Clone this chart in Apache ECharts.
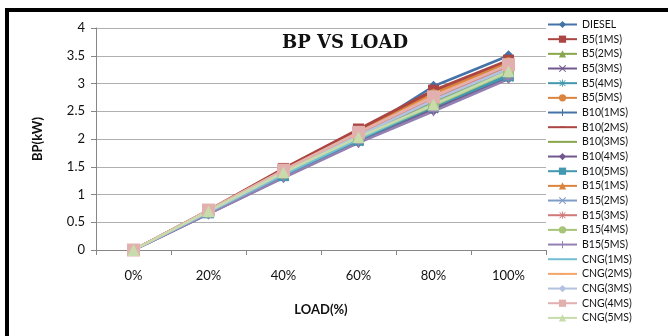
<!DOCTYPE html>
<html><head><meta charset="utf-8">
<script src="https://cdn.jsdelivr.net/npm/echarts@6/dist/echarts.min.js"></script>
<style>html,body{margin:0;padding:0;background:#fff}#c{width:668px;height:336px}</style>
</head><body><div id="c"></div>
<script>
const categories = ['0%','20%','40%','60%','80%','100%'];
const yTicks = [0,0.5,1,1.5,2,2.5,3,3.5,4];
const seriesNames = ['DIESEL','B5(1MS)','B5(2MS)','B5(3MS)','B5(4MS)','B5(5MS)','B10(1MS)','B10(2MS)','B10(3MS)','B10(4MS)','B10(5MS)','B15(1MS)','B15(2MS)','B15(3MS)','B15(4MS)','B15(5MS)','CNG(1MS)','CNG(2MS)','CNG(3MS)','CNG(4MS)','CNG(5MS)'];
const DIESEL    = [0,0.70,1.42,2.10,2.95,3.50];
const B5_1MS    = [0,0.72,1.47,2.18,2.88,3.42];
const B5_2MS    = [0,0.68,1.36,2.02,2.62,3.22];
const B5_3MS    = [0,0.66,1.33,1.96,2.55,3.12];
const B5_4MS    = [0,0.67,1.35,1.99,2.60,3.15];
const B5_5MS    = [0,0.71,1.43,2.10,2.80,3.38];
const B10_1MS   = [0,0.70,1.42,2.08,2.75,3.35];
const B10_2MS   = [0,0.71,1.45,2.15,2.85,3.40];
const B10_3MS   = [0,0.69,1.38,2.04,2.68,3.26];
const B10_4MS   = [0,0.65,1.31,1.94,2.52,3.10];
const B10_5MS   = [0,0.67,1.34,1.98,2.58,3.14];
const B15_1MS   = [0,0.71,1.44,2.12,2.82,3.37];
const B15_2MS   = [0,0.69,1.39,2.05,2.70,3.28];
const B15_3MS   = [0,0.70,1.41,2.07,2.73,3.31];
const B15_4MS   = [0,0.68,1.37,2.01,2.60,3.20];
const B15_5MS   = [0,0.65,1.30,1.93,2.50,3.08];
const CNG_1MS   = [0,0.68,1.36,2.00,2.63,3.22];
const CNG_2MS   = [0,0.71,1.43,2.11,2.78,3.33];
const CNG_3MS   = [0,0.69,1.39,2.06,2.70,3.27];
const CNG_4MS   = [0,0.72,1.44,2.12,2.76,3.34];
const CNG_5MS   = [0,0.70,1.40,2.03,2.62,3.22];
const seriesValues = [DIESEL,B5_1MS,B5_2MS,B5_3MS,B5_4MS,B5_5MS,B10_1MS,B10_2MS,B10_3MS,B10_4MS,B10_5MS,B15_1MS,B15_2MS,B15_3MS,B15_4MS,B15_5MS,CNG_1MS,CNG_2MS,CNG_3MS,CNG_4MS,CNG_5MS];

const colors = ['#4572A7','#AA4643','#89A54E','#71588F','#4198AF','#DB843D',
  '#4572A7','#AA4643','#89A54E','#71588F','#4198AF','#DB843D',
  '#7F9CC9','#D07A78','#A7C478','#9480B3','#74BFD2','#F3A56A',
  '#B2C2DF','#E2B0AE','#C8DBAA'];
const X = 'path://M0,1L1,0L5,4L9,0L10,1L6,5L10,9L9,10L5,6L1,10L0,9L4,5Z';
const PLUS = 'path://M4.3,0H5.7V4.3H10V5.7H5.7V10H4.3V5.7H0V4.3H4.3Z';
const STAR = 'path://M4.4,0H5.6V3.6L8.6,0.6L9.4,1.4L6.4,4.4H10V5.6H6.4L9.4,8.6L8.6,9.4L5.6,6.4V10H4.4V6.4L1.4,9.4L0.6,8.6L3.6,5.6H0V4.4H3.6L0.6,1.4L1.4,0.6L4.4,3.6Z';
const DASH = 'path://M0,0L0.001,0L0,0.001Z M10,10L9.999,10L10,9.999Z M1,4.2H9V5.8H1Z';
const symbols = ['diamond','rect','triangle',X,STAR,'circle',
  PLUS,DASH,'none','diamond','rect','triangle',
  X,STAR,'circle',PLUS,'none',DASH,
  'diamond','rect','triangle'];
const sizes = [11,11,11,10,10,11, 10,9,0,11,11,11, 10,10,11,10,0,9, 11,13,12];

const chart = echarts.init(document.getElementById('c'));
const series = seriesNames.map((n,i)=>{
  const none = symbols[i] === 'none';
  return {
    name:n, type:'line', data:seriesValues[i],
    symbol: none ? 'circle' : symbols[i], symbolSize: none ? 1 : sizes[i], showSymbol: !none,
    lineStyle:{width:2.5,color:colors[i]},
    itemStyle:{color: none ? 'rgba(0,0,0,0)' : colors[i]},
    animation:false
  };
});
chart.setOption({
  animation:false,
  color:colors,
  title:{text:'BP VS LOAD', left:340, top:29, textAlign:'center',
    textStyle:{fontFamily:'DejaVu Serif', fontWeight:'bold', fontSize:18, color:'#111'}},
  graphic:[{type:'rect', shape:{x:7,y:10,width:720,height:400}, style:{fill:'none',stroke:'#000',lineWidth:4}, silent:true}],
  grid:{left:96, top:28, width:450, height:222, containLabel:false},
  legend:{orient:'vertical', left:542, top:14, padding:[5,0,5,5], itemWidth:29, itemHeight:9, itemGap:3.67,
    textStyle:{fontFamily:'Lato', fontSize:10.5, color:'#111', padding:[0,0,0,0]},
    data:seriesNames},
  xAxis:{type:'category', data:categories, boundaryGap:true,
    axisLine:{lineStyle:{color:'#868686',width:1}},
    axisTick:{show:true, length:5, lineStyle:{color:'#868686'}},
    axisLabel:{fontFamily:'Lato', fontSize:13, color:'#111', margin:19},
    name:'LOAD(%)', nameLocation:'middle', nameGap:53,
    nameTextStyle:{fontFamily:'Lato', fontWeight:'bold', fontSize:13, color:'#111'}},
  yAxis:{type:'value', min:0, max:4, interval:0.5,
    axisLine:{show:true, lineStyle:{color:'#868686',width:1}},
    axisTick:{show:true, length:5, lineStyle:{color:'#868686'}},
    splitLine:{lineStyle:{color:'#b0b0b0',width:1}},
    axisLabel:{fontFamily:'Lato', fontSize:13, color:'#111', margin:11},
    name:'BP(kW)', nameLocation:'middle', nameGap:52, nameRotate:90,
    nameTextStyle:{fontFamily:'Lato', fontWeight:'bold', fontSize:13, color:'#111'}},
  series:series
});
</script></body></html>
